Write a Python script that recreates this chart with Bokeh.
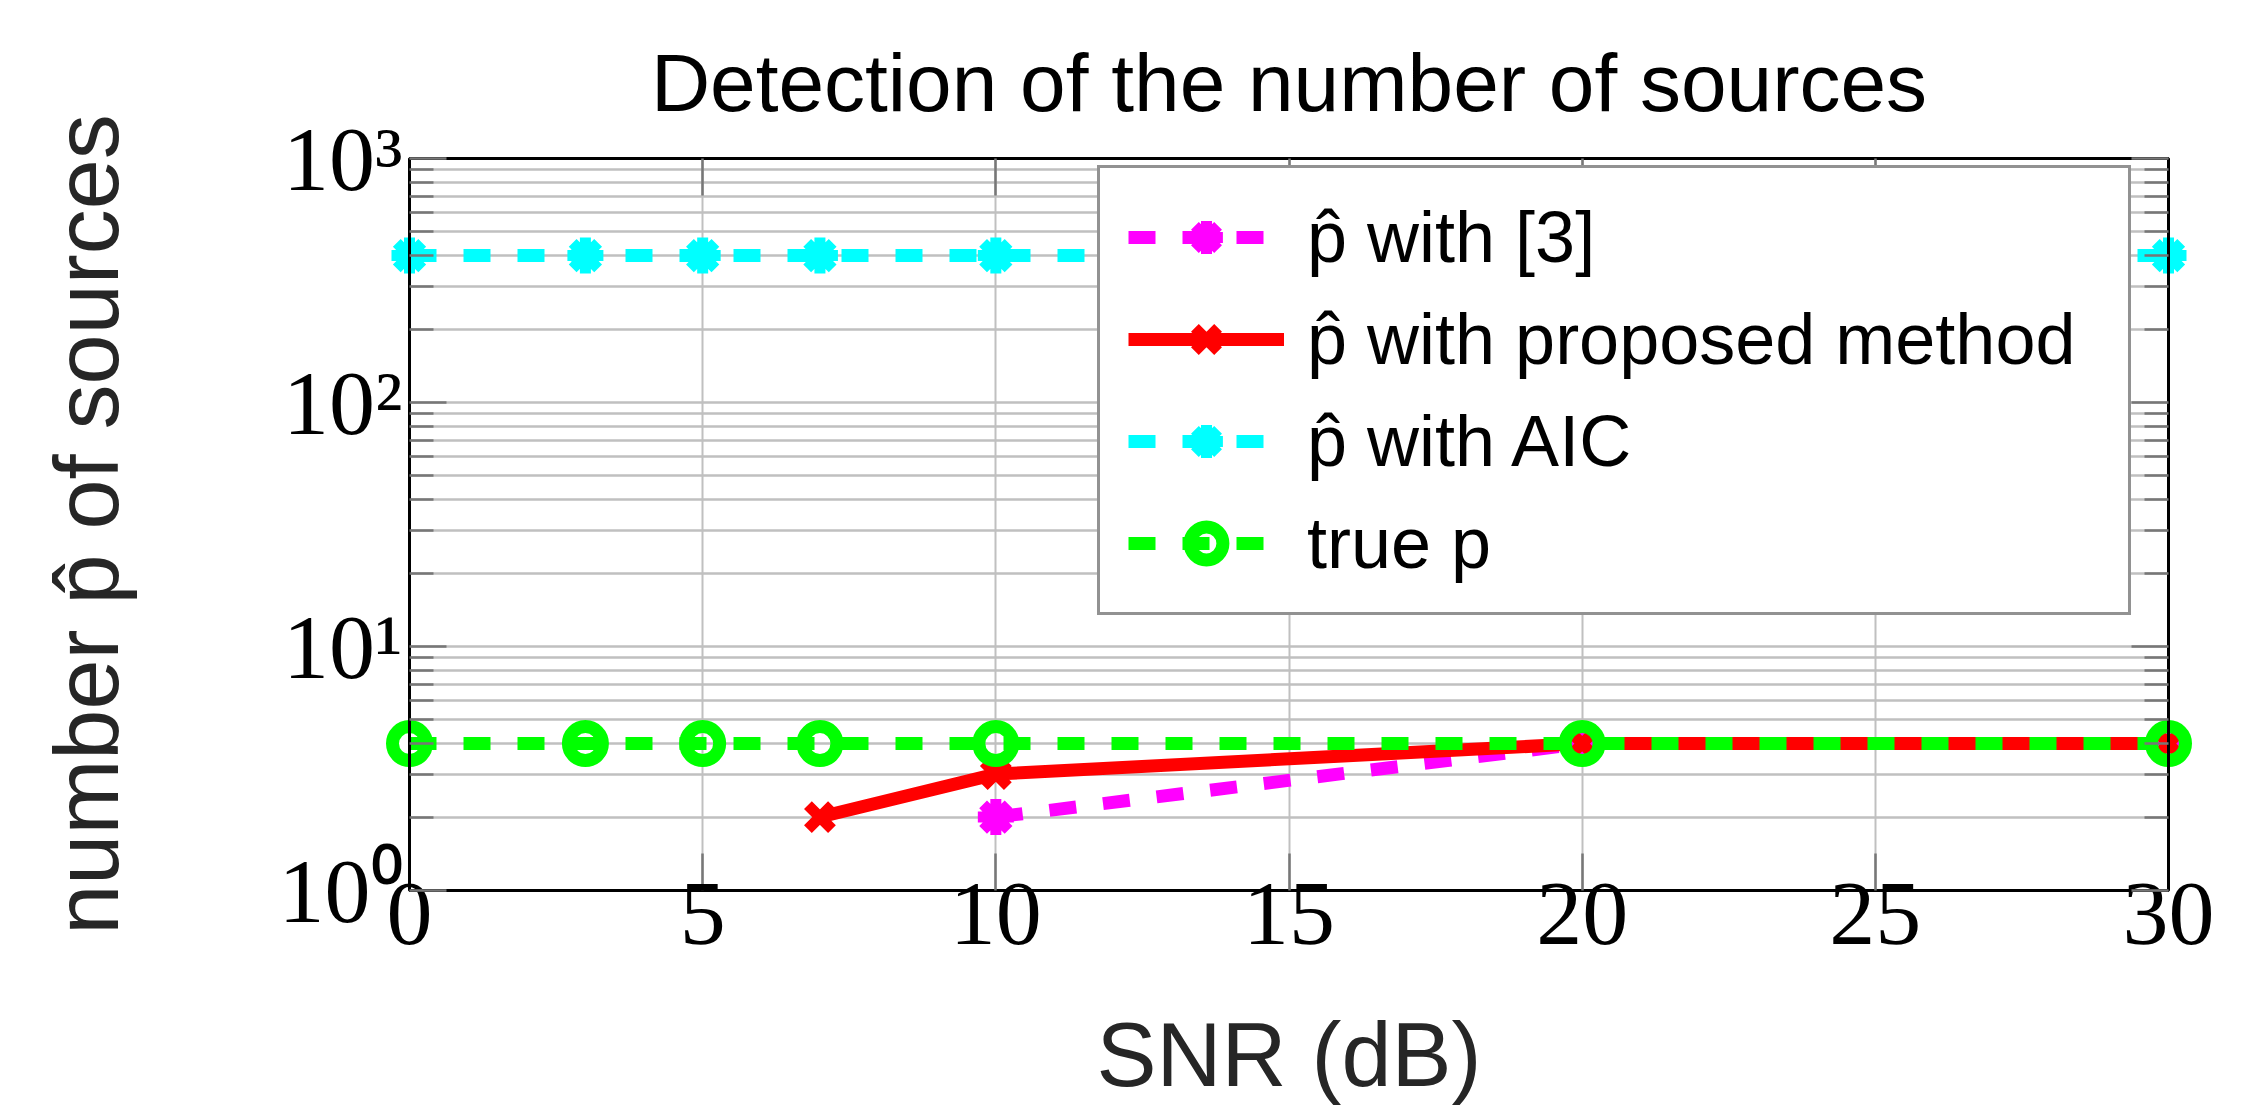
import math
from bokeh.plotting import figure
from bokeh.models import (FixedTicker, LogAxis, LinearAxis, Legend, LegendItem,
                          ColumnDataSource)
from bokeh.embed import file_html
from bokeh.resources import INLINE

nan = math.nan

# ---- data ----
snr_db = [0, 3, 5, 7, 10, 20, 30]
p_hat_ref3 = [nan, nan, nan, nan, 2, 4, 4]        # not detected at low SNR
p_hat_proposed = [nan, nan, nan, 2, 3, 4, 4]      # not detected at low SNR
p_hat_aic = [400, 400, 400, 400, 400, 400, 400]
p_true = [4, 4, 4, 4, 4, 4, 4]

x_ticks = [0, 5, 10, 15, 20, 25, 30]
y_ticks = [1, 10, 100, 1000]
y_tick_labels = ["10⁰", "10¹", "10²", "10³"]
y_minor_ticks = [2, 3, 4, 5, 6, 7, 8, 9,
                 20, 30, 40, 50, 60, 70, 80, 90,
                 200, 300, 400, 500, 600, 700, 800, 900]

series_names = ["p̂ with [3]", "p̂ with proposed method", "p̂ with AIC", "true p"]
title_text = "Detection of the number of sources"
x_label = "SNR (dB)"
y_label = "number p̂ of sources"

src = ColumnDataSource(dict(x=snr_db, ref3=p_hat_ref3, prop=p_hat_proposed,
                            aic=p_hat_aic, true=p_true))

p = figure(width=2260, height=1107, x_range=(0, 30), y_range=(1, 1000),
           y_axis_type="log", output_backend="svg", toolbar_location=None,
           min_border_left=409, min_border_right=92, min_border_top=158,
           min_border_bottom=216, title=title_text)

p.background_fill_color = "white"
p.border_fill_color = "white"
p.outline_line_color = "black"
p.outline_line_width = 3

# title
p.title.align = "center"
p.title.text_font = "Liberation Sans"
p.title.text_font_size = "82px"
p.title.text_font_style = "normal"
p.title.text_color = "black"
p.title.standoff = 62

xt = FixedTicker(ticks=x_ticks, minor_ticks=[])
yt = FixedTicker(ticks=y_ticks, minor_ticks=y_minor_ticks)

# grids
p.xgrid.ticker = xt
p.ygrid.ticker = yt
p.xgrid.grid_line_color = "#c0c0c0"
p.xgrid.grid_line_width = 2
p.ygrid.grid_line_color = "#c0c0c0"
p.ygrid.grid_line_width = 2.5
p.ygrid.minor_grid_line_color = "#c0c0c0"
p.ygrid.minor_grid_line_width = 2.5

tick_color = "#777777"
TICK_FONT = "92px"

# bottom axis
xa = p.xaxis[0]
xa.ticker = xt
xa.axis_line_color = "black"
xa.axis_line_width = 3
xa.major_tick_in = 37
xa.major_tick_out = 0
xa.minor_tick_in = 0
xa.minor_tick_out = 0
xa.major_tick_line_color = tick_color
xa.major_tick_line_width = 2.5
xa.major_label_text_font = "Liberation Serif"
xa.major_label_text_font_size = TICK_FONT
xa.major_label_text_color = "black"
xa.major_label_standoff = -7
xa.axis_label = x_label
xa.axis_label_text_font = "Liberation Sans"
xa.axis_label_text_font_size = "90px"
xa.axis_label_text_font_style = "normal"
xa.axis_label_text_color = "#262626"
xa.axis_label_standoff = 58

# left axis
ya = p.yaxis[0]
ya.ticker = yt
ya.axis_line_color = "black"
ya.axis_line_width = 3
ya.major_tick_in = 37
ya.major_tick_out = 0
ya.minor_tick_in = 24
ya.minor_tick_out = 0
ya.major_tick_line_color = tick_color
ya.major_tick_line_width = 2.5
ya.minor_tick_line_color = tick_color
ya.minor_tick_line_width = 2.5
ya.major_label_overrides = dict(zip(y_ticks, y_tick_labels))
ya.major_label_text_font = "Liberation Serif"
ya.major_label_text_font_size = TICK_FONT
ya.major_label_text_color = "black"
ya.major_label_standoff = 7
ya.axis_label = y_label
ya.axis_label_text_font = "Liberation Sans"
ya.axis_label_text_font_size = "90px"
ya.axis_label_text_font_style = "normal"
ya.axis_label_text_color = "#262626"
ya.axis_label_standoff = 139

# top and right axes (ticks only, labels not painted)
ta = LinearAxis(ticker=xt, axis_line_color="black", axis_line_width=3,
                major_tick_in=37, major_tick_out=0, minor_tick_in=0, minor_tick_out=0,
                major_tick_line_color=tick_color, major_tick_line_width=2.5,
                major_label_text_font_size="1px", major_label_text_color=None,
                major_label_standoff=0)
p.add_layout(ta, "above")
ra = LogAxis(ticker=yt, axis_line_color="black", axis_line_width=3,
             major_tick_in=37, major_tick_out=0, minor_tick_in=24, minor_tick_out=0,
             major_tick_line_color=tick_color, major_tick_line_width=2.5,
             minor_tick_line_color=tick_color, minor_tick_line_width=2.5,
             major_label_text_font_size="1px", major_label_text_color=None,
             major_label_standoff=0)
p.add_layout(ra, "right")

LW = 13
DASH = "27 27"

# series [3]
l1 = p.line("x", "ref3", source=src, line_color="#ff00ff", line_width=LW,
            line_dash=DASH, line_join="round")
m1 = p.scatter("x", "ref3", source=src, marker="asterisk", size=36,
               line_color="#ff00ff", line_width=11, fill_color="#ff00ff",
               level="guide")
# proposed
l2 = p.line("x", "prop", source=src, line_color="#ff0000", line_width=LW,
            line_join="round")
m2 = p.scatter("x", "prop", source=src, marker="x", size=34,
               line_color="#ff0000", line_width=11, level="guide")
# AIC
l3 = p.line("x", "aic", source=src, line_color="#00ffff", line_width=LW,
            line_dash=DASH)
m3 = p.scatter("x", "aic", source=src, marker="asterisk", size=36,
               line_color="#00ffff", line_width=11, fill_color="#00ffff",
               level="guide")
# true p
l4 = p.line("x", "true", source=src, line_color="#00ff00", line_width=LW,
            line_dash=DASH)
m4 = p.scatter("x", "true", source=src, marker="circle", size=34,
               line_color="#00ff00", line_width=13, fill_alpha=0,
               level="guide")

legend = Legend(items=[LegendItem(label=series_names[0], renderers=[l1, m1]),
                       LegendItem(label=series_names[1], renderers=[l2, m2]),
                       LegendItem(label=series_names[2], renderers=[l3, m3]),
                       LegendItem(label=series_names[3], renderers=[l4, m4])],
                location=(688, 275), margin=0, padding=28, spacing=20,
                glyph_width=156, glyph_height=82, label_height=82,
                label_width=793, label_standoff=23,
                label_text_font="Liberation Sans", label_text_font_size="72px",
                label_text_color="black",
                border_line_color="#262626", border_line_width=3,
                background_fill_color="white", background_fill_alpha=1.0)
p.add_layout(legend, "center")

open("out.html", "w").write(file_html(p, INLINE))
